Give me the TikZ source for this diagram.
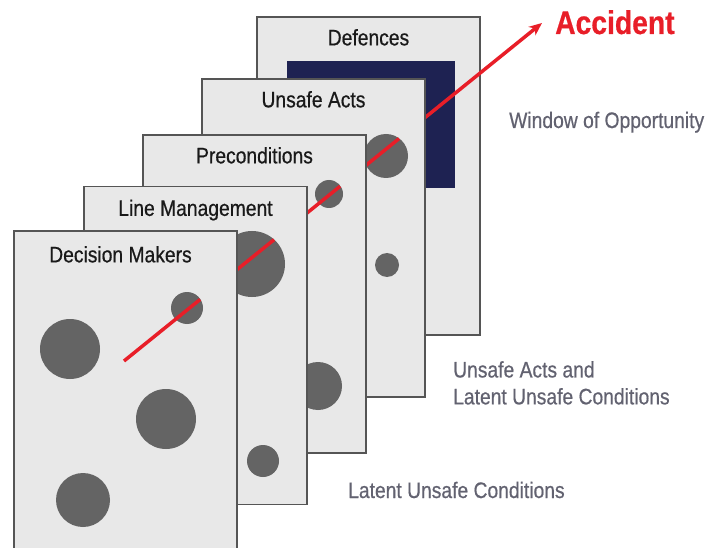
\documentclass[tikz,border=0pt]{standalone}
\usepackage{fontspec}
\newfontfamily\condsans[FakeStretch=0.86,FakeBold=0.6]{Liberation Sans}
\usetikzlibrary{arrows.meta,calc}
\definecolor{slicefill}{RGB}{232,232,232}
\definecolor{sliceedge}{RGB}{85,85,85}
\definecolor{holegray}{RGB}{100,100,100}
\definecolor{navyhole}{RGB}{30,34,82}
\definecolor{accred}{RGB}{232,30,40}
\definecolor{notegray}{RGB}{98,98,112}

\begin{document}
\begin{tikzpicture}[x=1bp,y=-1bp,>=Stealth,
	slice/.style={draw=sliceedge,fill=slicefill,line width=1.3bp,minimum width=223bp,minimum height=318bp,inner sep=0},
	title/.style={font=\condsans\fontsize{22.5}{26}\selectfont,text=black!90,anchor=base,inner sep=0},
	note/.style={font=\condsans\fontsize{22.5}{27}\selectfont,text=notegray,inner sep=0,align=left},
	hole/.style={fill=holegray},
	trajectory/.style={accred,line width=3.5bp}] % Swiss cheese model
	\useasboundingbox (0,0) rectangle (709,548);
	
	\coordinate (start) at (124,361);
	\coordinate (tip) at (542,23);
	
	% Defences
	\node[slice] (df) at (368.5,176) {};
	\node[title] (dft) at ($(df.north)+(0,29)$) {Defences};
	\fill[navyhole] (287,61) rectangle (455,188);
	\draw[trajectory,-{Stealth[length=13bp,width=11bp]}] ($(start)!0.70!(tip)$) -- (tip);
	
	% Unsafe Acts
	\node[slice] (ua) at (313.5,238) {};
	\node[title] (uat) at ($(ua.north)+(0,29)$) {Unsafe Acts};
	\foreach \x/\y/\r in {386/156/22, 387/265/12}{
		\fill[hole] (\x,\y) circle (\r);}
	\draw[trajectory] ($(start)!0.57!(tip)$) -- ($(start)!0.658!(tip)$);
	
	% Preconditions
	\node[slice] (pc) at (254.5,294) {};
	\node[title] (pct) at ($(pc.north)+(0,29)$) {Preconditions};
	\foreach \x/\y/\r in {329/194/14, 318/386/24}{
		\fill[hole] (\x,\y) circle (\r);}
	\draw[trajectory] ($(start)!0.43!(tip)$) -- ($(start)!0.517!(tip)$);
	
	% Line Management
	\node[slice] (lm) at (195.5,345.5) {};
	\node[title] (lmt) at ($(lm.north)+(0,30)$) {Line Management};
	\foreach \x/\y/\r in {252/264/33, 263/461/16}{
		\fill[hole] (\x,\y) circle (\r);}
	\draw[trajectory] ($(start)!0.26!(tip)$) -- ($(start)!0.359!(tip)$);
	
	% Decision Makers
	\node[slice] (dm) at (125.5,390) {};
	\node[title] (dmt) at ($(dm.north)+(-5,32)$) {Decision Makers};
	\foreach \x/\y/\r in {70/349/30, 187/308/16, 166/419/30, 83/500/27}{
		\fill[hole] (\x,\y) circle (\r);}
	\draw[trajectory] (start) -- ($(start)!0.182!(tip)$);
	
	% labels
	\node[font=\condsans\bfseries\fontsize{33}{36}\selectfont,text=accred,anchor=base west,inner sep=0] (acc) at (555,34) {Accident};
	\node[note,anchor=base west] (win) at (509,128) {Window of Opportunity};
	\node[note,anchor=north west] (uac) at (453,361) {Unsafe Acts and\\Latent Unsafe Conditions};
	\node[note,anchor=base west] (luc) at (348,498) {Latent Unsafe Conditions};
\end{tikzpicture}
\end{document}
